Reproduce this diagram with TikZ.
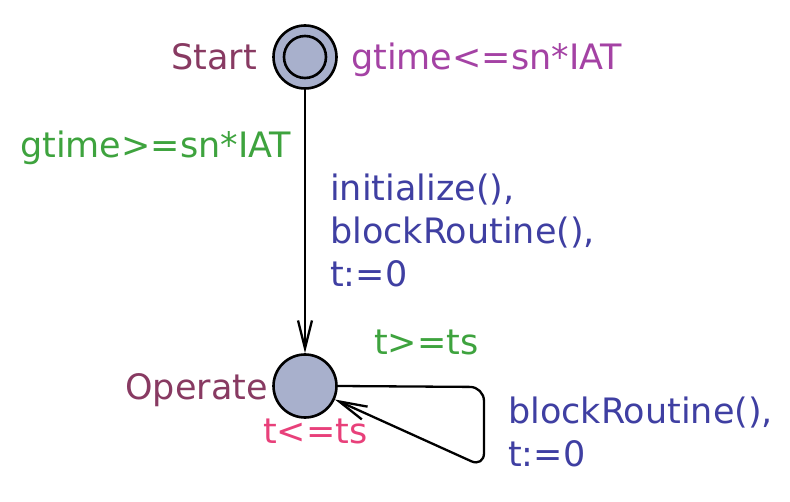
\documentclass[tikz,border=0pt]{standalone}
\usepackage{fontspec}
\setmainfont{DejaVu Sans}
\usetikzlibrary{arrows.meta}
\definecolor{locname}{HTML}{883A62}
\definecolor{invcol}{HTML}{A442A4}
\definecolor{invpink}{HTML}{E8407A}
\definecolor{guardcol}{HTML}{3EA33E}
\definecolor{assigncol}{HTML}{3F3FA2}
\definecolor{locfill}{HTML}{A8B0CC}
\tikzset{
  loc/.style={circle, draw=black, line width=2.6pt, fill=locfill, minimum size=63pt, inner sep=0pt},
  inner/.style={circle, draw=black, line width=2.6pt, minimum size=42pt, inner sep=0pt},
  lbl/.style={inner sep=0pt, font=\fontsize{35}{43}\selectfont},
  edge/.style={line width=2.3pt, -{Straight Barb[length=28pt,width=14pt,line width=2.3pt]}},
}
\begin{document}
\begin{tikzpicture}[x=1pt,y=-1pt]
\useasboundingbox (0,0) rectangle (790,502);
\node[loc] (st) at (305,57) {};
\node[inner] (stin) at (305,57) {};
\node[loc] (op) at (305,386) {};
\node[lbl, anchor=base east, text=locname] (stname) at (257,70) {Start};
\node[lbl, anchor=base west, text=invcol] (stinv) at (351,70) {gtime<=sn*IAT};
\node[lbl, anchor=base west, text=guardcol] (g1) at (20,158) {gtime>=sn*IAT};
\node[lbl, anchor=base west, text=assigncol, align=left] (a1) at (330,287) {initialize(),\\blockRoutine(),\\t:=0};
\node[lbl, anchor=base east, text=locname] (opname) at (268,400) {Operate};
\node[lbl, anchor=base west, text=invpink] (opinv) at (263,443) {t<=ts};
\node[lbl, anchor=base west, text=guardcol] (g2) at (374,355) {t>=ts};
\node[lbl, anchor=base west, text=assigncol, align=left] (a2) at (508,466) {blockRoutine(),\\t:=0};
\coordinate (c1) at (484,387);
\coordinate (c2) at (484,467);
\draw[edge] (st) -- (op);
\draw[edge, rounded corners=14pt] (op.east) -- (c1) -- (c2) -- (op);
\end{tikzpicture}
\end{document}
